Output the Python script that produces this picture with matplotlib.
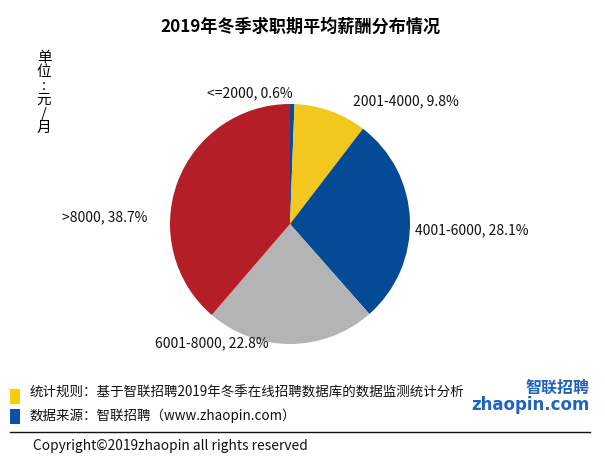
import matplotlib
matplotlib.use("Agg")
import matplotlib.pyplot as plt
from matplotlib.patches import Rectangle
from matplotlib.lines import Line2D
import numpy as np

plt.rcParams['font.family'] = ['Noto Sans CJK SC', 'DejaVu Sans']

categories = ['<=2000', '2001-4000', '4001-6000', '6001-8000', '>8000']
values = [0.6, 9.8, 28.1, 22.8, 38.7]
colors = ['#0A4A97', '#F2C81E', '#054A94', '#B4B4B5', '#B51E27']
title = '2019年冬季求职期平均薪酬分布情况'
unit_label = '单\n位\n:\n元\n/\n月'
note1 = '统计规则：基于智联招聘2019年冬季在线招聘数据库的数据监测统计分析'
note2 = '数据来源：智联招聘（www.zhaopin.com）'
copyright_text = 'Copyright©2019zhaopin all rights reserved'

W, H = 605, 466
fig = plt.figure(figsize=(W / 100, H / 100), dpi=100)
fig.patch.set_facecolor('white')

# pie axes: center (290,224), radius 120 px
ax = fig.add_axes([170 / W, (H - 344) / H, 240 / W, 240 / H])
wedges, texts = ax.pie(values, colors=colors, startangle=90, counterclock=False,
                       labels=[f'{c}, {v}%' for c, v in zip(categories, values)],
                       wedgeprops=dict(linewidth=0), textprops=dict(fontsize=10, color='#111111'))
ax.set_xlim(-1, 1)
ax.set_ylim(-1, 1)
ax.set_aspect('equal')

# label placement (in pie radius units) and alignment
label_pos = [(0.02, 1.09, 'right'), (0.525, 1.02, 'left'), (1.04, -0.05, 'left'),
             (-0.18, -0.99, 'right'), (-1.19, 0.06, 'right')]
for t, (x, y, ha) in zip(texts, label_pos):
    t.set_position((x, y))
    t.set_ha(ha)
    t.set_va('center')

fig.text(300 / W, 1 - 27 / H, title, ha='center', va='center', fontsize=12.3, fontweight='bold')
fig.text(44 / W, 1 - 93 / H, unit_label, ha='center', va='center', fontsize=10.5, linespacing=1.0)

# notes
fig.add_artist(Rectangle((10 / W, 1 - 404 / H), 10 / W, 15 / H, transform=fig.transFigure,
                         facecolor='#FFCC00', edgecolor='none'))
fig.add_artist(Rectangle((10 / W, 1 - 424 / H), 10 / W, 15 / H, transform=fig.transFigure,
                         facecolor='#0A52A8', edgecolor='none'))
fig.text(30 / W, 1 - 393 / H, note1, ha='left', va='center', fontsize=9.7, color='#111111')
fig.text(30 / W, 1 - 416 / H, note2, ha='left', va='center', fontsize=9.7, color='#111111')
fig.add_artist(Line2D([10 / W, 590 / W], [1 - 432 / H, 1 - 432 / H], transform=fig.transFigure,
                      color='#111111', linewidth=1.0))
fig.text(33 / W, 1 - 446 / H, copyright_text, ha='left', va='center', fontsize=9.9, color='#111111')

# logo
fig.text(590 / W, 1 - 388 / H, '智联招聘', ha='right', va='center', fontsize=11.5,
         fontweight='bold', color='#1F63C0', style='italic')
fig.text(590 / W, 1 - 405 / H, 'zhaopin.com', ha='right', va='center', fontsize=12,
         fontweight='bold', color='#1F63C0', family='DejaVu Sans')

fig.savefig('out.png', dpi=100)
